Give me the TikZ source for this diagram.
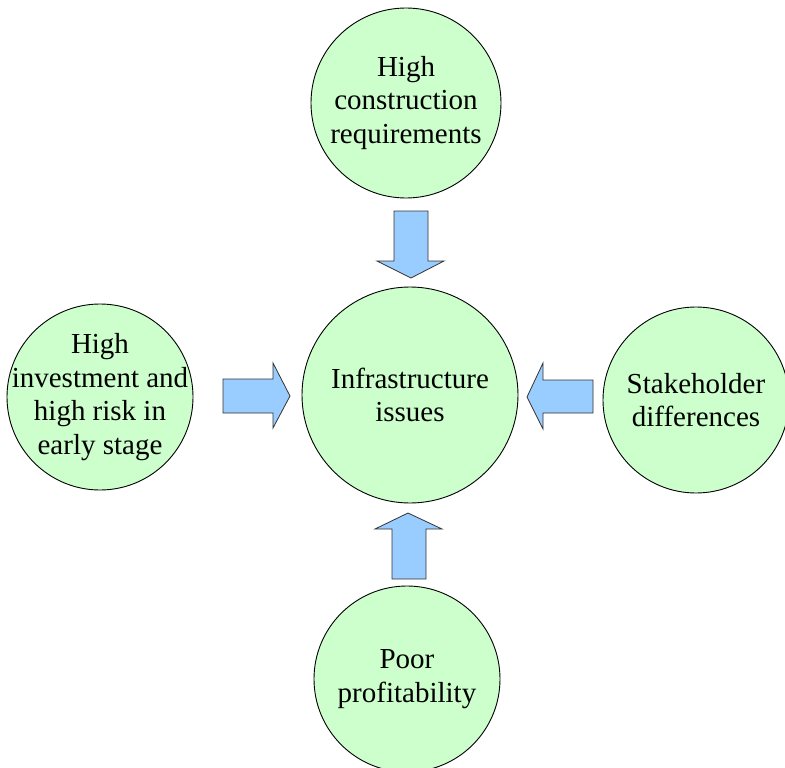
\documentclass[tikz,border=0pt]{standalone}
\usepackage{fontspec}
\setmainfont{Liberation Serif}
\begin{document}
\begin{tikzpicture}[x=1pt,y=-1pt,
  bubble/.style={circle,draw=black,line width=0.9pt,fill=bubblegreen,inner sep=-40pt,align=center,
    font=\fontsize{29}{33.5}\selectfont},
  blockarrow/.style={draw=black!80,line width=0.8pt,fill=arrowblue,line join=miter}]
\definecolor{bubblegreen}{HTML}{CCFFCC}
\definecolor{arrowblue}{HTML}{99CCFF}
\useasboundingbox (0,0) rectangle (785,768);
\node[bubble,minimum size=216pt] (center) at (410,395) {Infrastructure\\issues};
\node[bubble,minimum size=190pt] (top) at (406,103) {High\\construction\\requirements};
\node[bubble,minimum size=186pt] (left) at (100,397) {High\\investment and\\high risk in\\early stage};
\node[bubble,minimum size=186pt] (right) at (696,400) {Stakeholder\\differences};
\node[bubble,minimum size=186pt] (bottom) at (407,679) {Poor\\profitability};
% top arrow
\draw[blockarrow] (394,211) -- (428,211) -- (428,261) -- (444,261) -- (411,278) -- (377,261) -- (394,261) -- cycle;
% left arrow
\draw[blockarrow] (223,379) -- (273,379) -- (273,363) -- (290,396) -- (273,428) -- (273,413) -- (223,413) -- cycle;
% right arrow
\draw[blockarrow] (593,380) -- (543,380) -- (543,363) -- (527,397) -- (543,429) -- (543,413) -- (593,413) -- cycle;
% bottom arrow
\draw[blockarrow] (392,579) -- (392,529) -- (375,529) -- (408,513) -- (442,529) -- (426,529) -- (426,579) -- cycle;
\end{tikzpicture}
\end{document}
